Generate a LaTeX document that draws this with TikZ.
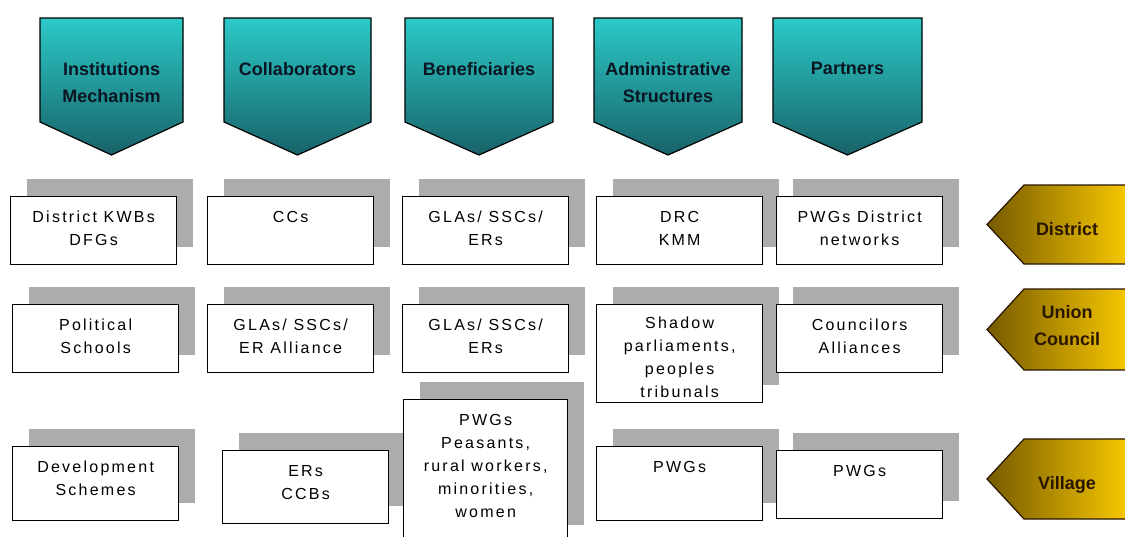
\documentclass[tikz,border=0pt]{standalone}
\usepackage{fontspec}
\setmainfont{Liberation Sans}
\newfontfamily\cajafont[LetterSpace=14]{Liberation Sans}
\usetikzlibrary{positioning,shadows}

\begin{document}
\begin{tikzpicture}[x=1pt,y=-1pt,
    caja/.style={draw=black,line width=1.3pt,fill=white,minimum width=166pt,minimum height=68pt,
      anchor=north west,inner sep=0pt,
      general shadow={fill=sombra,shadow xshift=16pt,shadow yshift=18pt}},
    texto/.style={align=center,inner sep=0pt,font=\cajafont\fontsize{16}{23}\selectfont},
    cab/.style={align=center,anchor=north,inner sep=0pt,text=tinta,font=\bfseries\fontsize{18}{27}\selectfont},
    nivel/.style={align=center,inner sep=0pt,text=marron,font=\bfseries\fontsize{18}{27}\selectfont}]
    %colores
    \definecolor{cabarriba}{RGB}{44,202,200}
    \definecolor{cababajo}{RGB}{24,98,104}
    \definecolor{oro}{RGB}{255,206,0}
    \definecolor{oroosc}{RGB}{118,90,0}
    \definecolor{sombra}{RGB}{172,172,172}
    \definecolor{tinta}{RGB}{10,22,34}
    \definecolor{marron}{RGB}{40,22,0}

    \useasboundingbox (0,0) rectangle (1125,536);

    % Cabeceras (flechas hacia abajo)
    \foreach \i/\xa/\xb/\txt in {1/40/183/Institutions\\Mechanism,2/224/371/Collaborators,
        3/405/553/Beneficiaries,4/594/742/Administrative\\Structures,5/773/922/Partners}
    {
        \shadedraw[draw=black,line width=1.2pt,top color=cabarriba,bottom color=cababajo]
            (\xa,18) -- (\xb,18) -- (\xb,122) -- ({(\xa+\xb)/2},155) -- (\xa,122) -- cycle;
        \node[cab] (cab\i) at ({(\xa+\xb)/2},62) {\txt};
    }

    % Niveles (flechas hacia la izquierda)
    \foreach \i/\ya/\yb/\yt/\txt in {1/185/264/229/District,2/289/370/326/Union\\Council,3/439/519/485/Village}
    {
        \shadedraw[draw=marron,line width=1.2pt,left color=oroosc,right color=oro]
            (1135,\ya) -- (1024,\ya) -- (987,{(\ya+\yb)/2}) -- (1024,\yb) -- (1135,\yb);
        \node[nivel] (niv\i) at (1067,\yt) {\txt};
    }

    % Fila 1: District
    \node[caja] (a1) at (10,196) {};
    \node[texto,below=15pt of a1.north] (a1t) {District KWBs\\DFGs};
    \node[caja] (a2) at (207,196) {};
    \node[texto,below=15pt of a2.north] (a2t) {CCs};
    \node[caja] (a3) at (402,196) {};
    \node[texto,below=15pt of a3.north] (a3t) {GLAs/ SSCs/\\ERs};
    \node[caja] (a4) at (596,196) {};
    \node[texto,below=15pt of a4.north] (a4t) {DRC\\KMM};
    \node[caja] (a5) at (776,196) {};
    \node[texto,below=15pt of a5.north] (a5t) {PWGs District\\networks};

    % Fila 2: Union Council
    \node[caja] (b1) at (12,304) {};
    \node[texto,below=15pt of b1.north] (b1t) {Political\\Schools};
    \node[caja] (b2) at (207,304) {};
    \node[texto,below=15pt of b2.north] (b2t) {GLAs/ SSCs/\\ER Alliance};
    \node[caja] (b3) at (402,304) {};
    \node[texto,below=15pt of b3.north] (b3t) {GLAs/ SSCs/\\ERs};
    \node[caja,minimum height=98pt] (b4) at (596,304) {};
    \node[texto,below=13pt of b4.north] (b4t) {Shadow\\parliaments,\\peoples\\tribunals};
    \node[caja] (b5) at (776,304) {};
    \node[texto,below=15pt of b5.north] (b5t) {Councilors\\Alliances};

    % Fila 3: Village
    \node[caja,minimum height=74pt] (c1) at (12,446) {};
    \node[texto,below=15pt of c1.north] (c1t) {Development\\Schemes};
    \node[caja,minimum height=73pt] (c2) at (222,450) {};
    \node[texto,below=15pt of c2.north] (c2t) {ERs\\CCBs};
    \node[caja,minimum width=164pt,minimum height=143pt] (c3) at (403,399) {};
    \node[texto,below=15pt of c3.north] (c3t) {PWGs\\Peasants,\\rural workers,\\minorities,\\women};
    \node[caja,minimum height=74pt] (c4) at (596,446) {};
    \node[texto,below=15pt of c4.north] (c4t) {PWGs};
    \node[caja] (c5) at (776,450) {};
    \node[texto,below=15pt of c5.north] (c5t) {PWGs};
\end{tikzpicture}
\end{document}
